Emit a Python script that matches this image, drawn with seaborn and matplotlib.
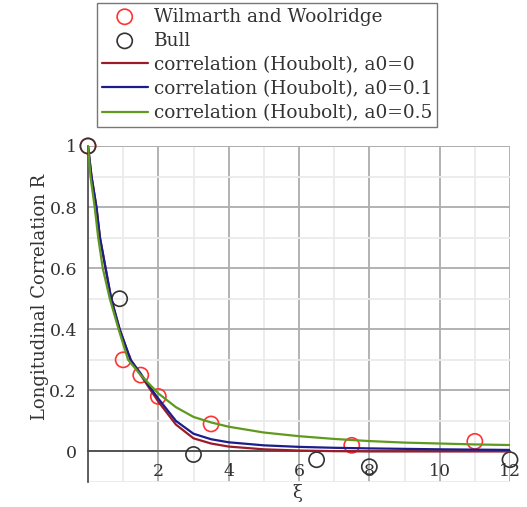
import numpy as np
import pandas as pd
import matplotlib
matplotlib.use("Agg")
import matplotlib.pyplot as plt
import seaborn as sns
from matplotlib.ticker import MultipleLocator, FixedLocator, FuncFormatter

# ---- data ----
wil_xi = [0, 1.0, 1.5, 2.0, 3.5, 7.5, 11.0]
wil_R = [1.0, 0.30, 0.25, 0.18, 0.09, 0.02, 0.033]

bull_xi = [0, 0.9, 3.0, 6.5, 8.0, 12.0]
bull_R = [1.0, 0.50, -0.01, -0.027, -0.05, -0.027]

a00_xi = [0, 0.1, 0.24, 0.34, 0.5, 0.66, 0.9, 1.21, 1.5, 1.7, 2.0, 2.5, 3.0, 3.5, 4.0, 5.0, 6.0, 7.0, 8.0, 10.0, 12.0]
a00_R = [1.0, 0.9, 0.8, 0.7, 0.6, 0.5, 0.4, 0.3, 0.25, 0.215, 0.163, 0.088, 0.043, 0.026, 0.016, 0.007, 0.003, 0.001, 0.0, 0.0, 0.0]

a01_xi = [0, 0.1, 0.24, 0.34, 0.5, 0.66, 0.9, 1.21, 1.5, 1.7, 2.0, 2.5, 3.0, 3.5, 4.0, 5.0, 6.0, 7.0, 8.0, 10.0, 12.0]
a01_R = [1.0, 0.9, 0.8, 0.7, 0.6, 0.5, 0.4, 0.3, 0.255, 0.22, 0.173, 0.1, 0.058, 0.04, 0.03, 0.02, 0.015, 0.012, 0.01, 0.007, 0.005]

a05_xi = [0, 0.07, 0.19, 0.29, 0.42, 0.62, 0.87, 1.14, 1.5, 1.7, 2.0, 2.5, 3.0, 3.5, 4.0, 5.0, 6.0, 7.0, 8.0, 9.0, 10.0, 11.0, 12.0]
a05_R = [1.0, 0.9, 0.8, 0.7, 0.6, 0.5, 0.4, 0.3, 0.25, 0.226, 0.19, 0.145, 0.113, 0.095, 0.081, 0.062, 0.05, 0.041, 0.034, 0.029, 0.026, 0.023, 0.021]

labels = ["Wilmarth and Woolridge", "Bull",
          "correlation (Houbolt), a0=0",
          "correlation (Houbolt), a0=0.1",
          "correlation (Houbolt), a0=0.5"]

sns.set_style("white")
plt.rcParams['font.family'] = ['DejaVu Serif']

fig = plt.figure(figsize=(5.27, 5.07), dpi=100)
ax = fig.add_axes([88/527, 1-482/507, 422/527, 336/507])

sns.scatterplot(x=wil_xi, y=wil_R, ax=ax, marker='o', s=120, facecolors='none',
                edgecolor='#ff3333', linewidth=1.2, label=labels[0], clip_on=False, zorder=3)
sns.scatterplot(x=bull_xi, y=bull_R, ax=ax, marker='o', s=120, facecolors='none',
                edgecolor='#333333', linewidth=1.2, label=labels[1], clip_on=False, zorder=3)

sns.lineplot(x=a00_xi, y=a00_R, ax=ax, color='#9a1c28', lw=1.6, label=labels[2], sort=False, estimator=None, zorder=4)
sns.lineplot(x=a01_xi, y=a01_R, ax=ax, color='#1c1c8c', lw=1.6, label=labels[3], sort=False, estimator=None, zorder=5)
sns.lineplot(x=a05_xi, y=a05_R, ax=ax, color='#5f9a1f', lw=1.6, label=labels[4], sort=False, estimator=None, zorder=6)

ax.set_xlim(0, 12)
ax.set_ylim(-0.1, 1.0)

ax.xaxis.set_major_locator(FixedLocator([2, 4, 6, 8, 10, 12]))
ax.xaxis.set_minor_locator(MultipleLocator(1))
ax.yaxis.set_major_locator(FixedLocator([0, 0.2, 0.4, 0.6, 0.8, 1.0]))
ax.yaxis.set_minor_locator(MultipleLocator(0.1))

fmt = FuncFormatter(lambda v, p: ("%d" % round(v)) if abs(v - round(v)) < 1e-9 else ("%g" % v))
ax.xaxis.set_major_formatter(fmt)
ax.yaxis.set_major_formatter(fmt)

# grid
ax.grid(True, which='major', color='#adadad', lw=1.3)
ax.grid(True, which='minor', color='#eaeaea', lw=1.3)
ax.set_axisbelow(True)
ax.axhline(1.0, color='#adadad', lw=1.3, zorder=0.5)

for s in ['top', 'right']:
    ax.spines[s].set_visible(False)
ax.spines['bottom'].set_position(('data', 0))
for s in ['left', 'bottom']:
    ax.spines[s].set_color('#444444')
    ax.spines[s].set_linewidth(1.2)

ax.tick_params(axis='both', which='both', direction='out', color='#444444', width=1.0,
               labelsize=12.5, labelcolor='#333333')
ax.tick_params(axis='both', which='major', length=4)
ax.tick_params(axis='both', which='minor', length=4)
ax.tick_params(axis='x', pad=4)
ax.tick_params(axis='y', pad=4)

ax.set_xlabel("ξ", fontsize=13, color='#333333')
ax.set_ylabel("Longitudinal Correlation R", fontsize=13, color='#333333')
ax.xaxis.set_label_coords(0.495, -0.005)
ax.yaxis.set_label_coords(-0.092, 0.55)

handles, labs = ax.get_legend_handles_labels()
ax.get_legend().remove()
leg = fig.legend(handles, labs, loc='upper left', bbox_to_anchor=(97/527, 1-3/507),
                 frameon=True, fancybox=False, fontsize=13.3, handlelength=2.5,
                 handletextpad=0.35, labelspacing=0.33, borderpad=0.25, borderaxespad=0)
leg.get_frame().set_edgecolor('#555555')
leg.get_frame().set_linewidth(1.0)
for t in leg.get_texts():
    t.set_color('#333333')

fig.savefig("out.png", dpi=100)
